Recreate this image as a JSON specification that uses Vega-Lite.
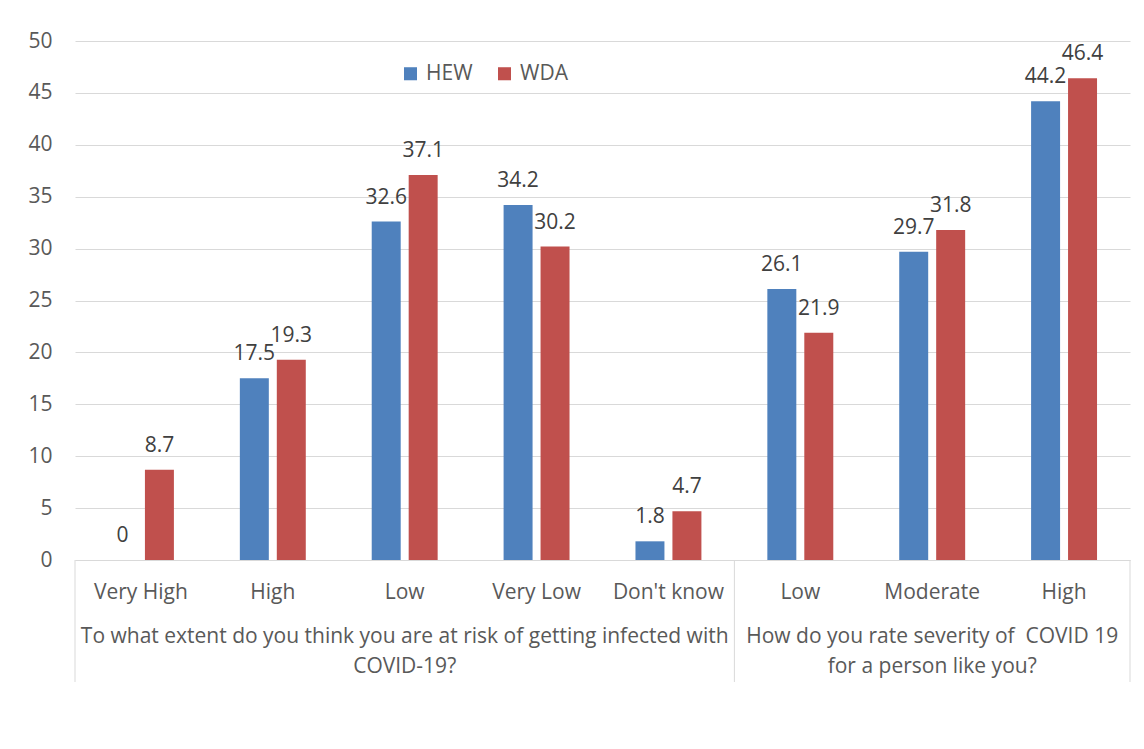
{
  "$schema": "https://vega.github.io/schema/vega-lite/v6.json",
  "width": 1055,
  "height": 519,
  "autosize": {"type": "none"},
  "padding": {"left": 75, "top": 41, "right": 14, "bottom": 189},
  "background": "white",
  "config": {
    "view": {"stroke": null},
    "font": "Open Sans",
    "text": {"font": "Open Sans"}
  },
  "datasets": {
    "responses": [
      {"key": "Q1|Very High", "series": "HEW", "value": 0},
      {"key": "Q1|Very High", "series": "WDA", "value": 8.7},
      {"key": "Q1|High", "series": "HEW", "value": 17.5},
      {"key": "Q1|High", "series": "WDA", "value": 19.3},
      {"key": "Q1|Low", "series": "HEW", "value": 32.6},
      {"key": "Q1|Low", "series": "WDA", "value": 37.1},
      {"key": "Q1|Very Low", "series": "HEW", "value": 34.2},
      {"key": "Q1|Very Low", "series": "WDA", "value": 30.2},
      {"key": "Q1|Don't know", "series": "HEW", "value": 1.8},
      {"key": "Q1|Don't know", "series": "WDA", "value": 4.7},
      {"key": "Q2|Low", "series": "HEW", "value": 26.1},
      {"key": "Q2|Low", "series": "WDA", "value": 21.9},
      {"key": "Q2|Moderate", "series": "HEW", "value": 29.7},
      {"key": "Q2|Moderate", "series": "WDA", "value": 31.8},
      {"key": "Q2|High", "series": "HEW", "value": 44.2},
      {"key": "Q2|High", "series": "WDA", "value": 46.4}
    ],
    "questions": [
      {"key": "Q1|Low", "question": "To what extent do you think you are at risk of getting infected with\nCOVID-19?"},
      {"key": "Q2|Moderate", "question": "How do you rate severity of \u00a0COVID 19\nfor a person like you?"}
    ],
    "groupStarts": [
      {"key": "Q1|Very High"},
      {"key": "Q2|Low"}
    ],
    "groupEnds": [
      {"key": "Q2|High"}
    ]
  },
  "layer": [
    {
      "data": {"name": "responses"},
      "mark": {"type": "bar"},
      "encoding": {
        "x": {
          "field": "key",
          "type": "nominal",
          "scale": {
            "domain": ["Q1|Very High", "Q1|High", "Q1|Low", "Q1|Very Low", "Q1|Don't know", "Q2|Low", "Q2|Moderate", "Q2|High"],
            "paddingInner": 0,
            "paddingOuter": 0
          },
          "axis": {
            "title": null,
            "labelExpr": "split(datum.value, '|')[1]",
            "labelAngle": 0,
            "labelFont": "Open Sans",
            "labelFontSize": 21,
            "labelColor": "#595959",
            "labelBaseline": "alphabetic",
            "labelPadding": 38,
            "ticks": false,
            "tickSize": 0,
            "domainColor": "#d9d9d9",
            "domainWidth": 1,
            "grid": false
          }
        },
        "xOffset": {
          "field": "series",
          "type": "nominal",
          "scale": {"domain": ["HEW", "WDA"], "paddingInner": 0.216, "paddingOuter": 0.892}
        },
        "y": {
          "field": "value",
          "type": "quantitative",
          "scale": {"domain": [0, 50], "nice": false},
          "axis": {
            "title": null,
            "values": [0, 5, 10, 15, 20, 25, 30, 35, 40, 45, 50],
            "labelFont": "Open Sans",
            "labelFontSize": 21,
            "labelColor": "#595959",
            "labelPadding": 23,
            "ticks": false,
            "tickSize": 0,
            "domain": false,
            "gridColor": "#d9d9d9",
            "gridWidth": 1
          }
        },
        "color": {
          "field": "series",
          "type": "nominal",
          "scale": {"domain": ["HEW", "WDA"], "range": ["#4f81bd", "#c0504d"]},
          "legend": {
            "title": null,
            "orient": "none",
            "legendX": 325,
            "legendY": 22,
            "direction": "horizontal",
            "columns": 2,
            "columnPadding": 21,
            "symbolType": "square",
            "symbolSize": 170,
            "symbolStrokeWidth": 0,
            "labelFont": "Open Sans",
            "labelFontSize": 21,
            "labelColor": "#595959",
            "labelOffset": 5,
            "padding": 0
          }
        }
      }
    },
    {
      "data": {"name": "responses"},
      "mark": {"type": "text", "baseline": "alphabetic", "align": "center", "dy": -18, "fontSize": 21, "color": "#404040"},
      "encoding": {
        "x": {"field": "key", "type": "nominal"},
        "xOffset": {"field": "series", "type": "nominal"},
        "y": {"field": "value", "type": "quantitative"},
        "text": {"field": "value", "type": "quantitative", "format": ".1~f"}
      }
    },
    {
      "data": {"name": "questions"},
      "mark": {"type": "text", "baseline": "alphabetic", "align": "center", "dy": 83, "fontSize": 21, "lineHeight": 30, "lineBreak": "\n", "color": "#595959"},
      "encoding": {
        "x": {"field": "key", "type": "nominal"},
        "y": {"datum": 0},
        "text": {"field": "question"}
      }
    },
    {
      "data": {"name": "groupStarts"},
      "mark": {"type": "rule", "color": "#d9d9d9", "strokeWidth": 1, "y2Offset": 122},
      "encoding": {
        "x": {"field": "key", "type": "nominal", "bandPosition": 0},
        "y": {"datum": 0},
        "y2": {"datum": 0}
      }
    },
    {
      "data": {"name": "groupEnds"},
      "mark": {"type": "rule", "color": "#d9d9d9", "strokeWidth": 1, "y2Offset": 122},
      "encoding": {
        "x": {"field": "key", "type": "nominal", "bandPosition": 1},
        "y": {"datum": 0},
        "y2": {"datum": 0}
      }
    }
  ]
}
